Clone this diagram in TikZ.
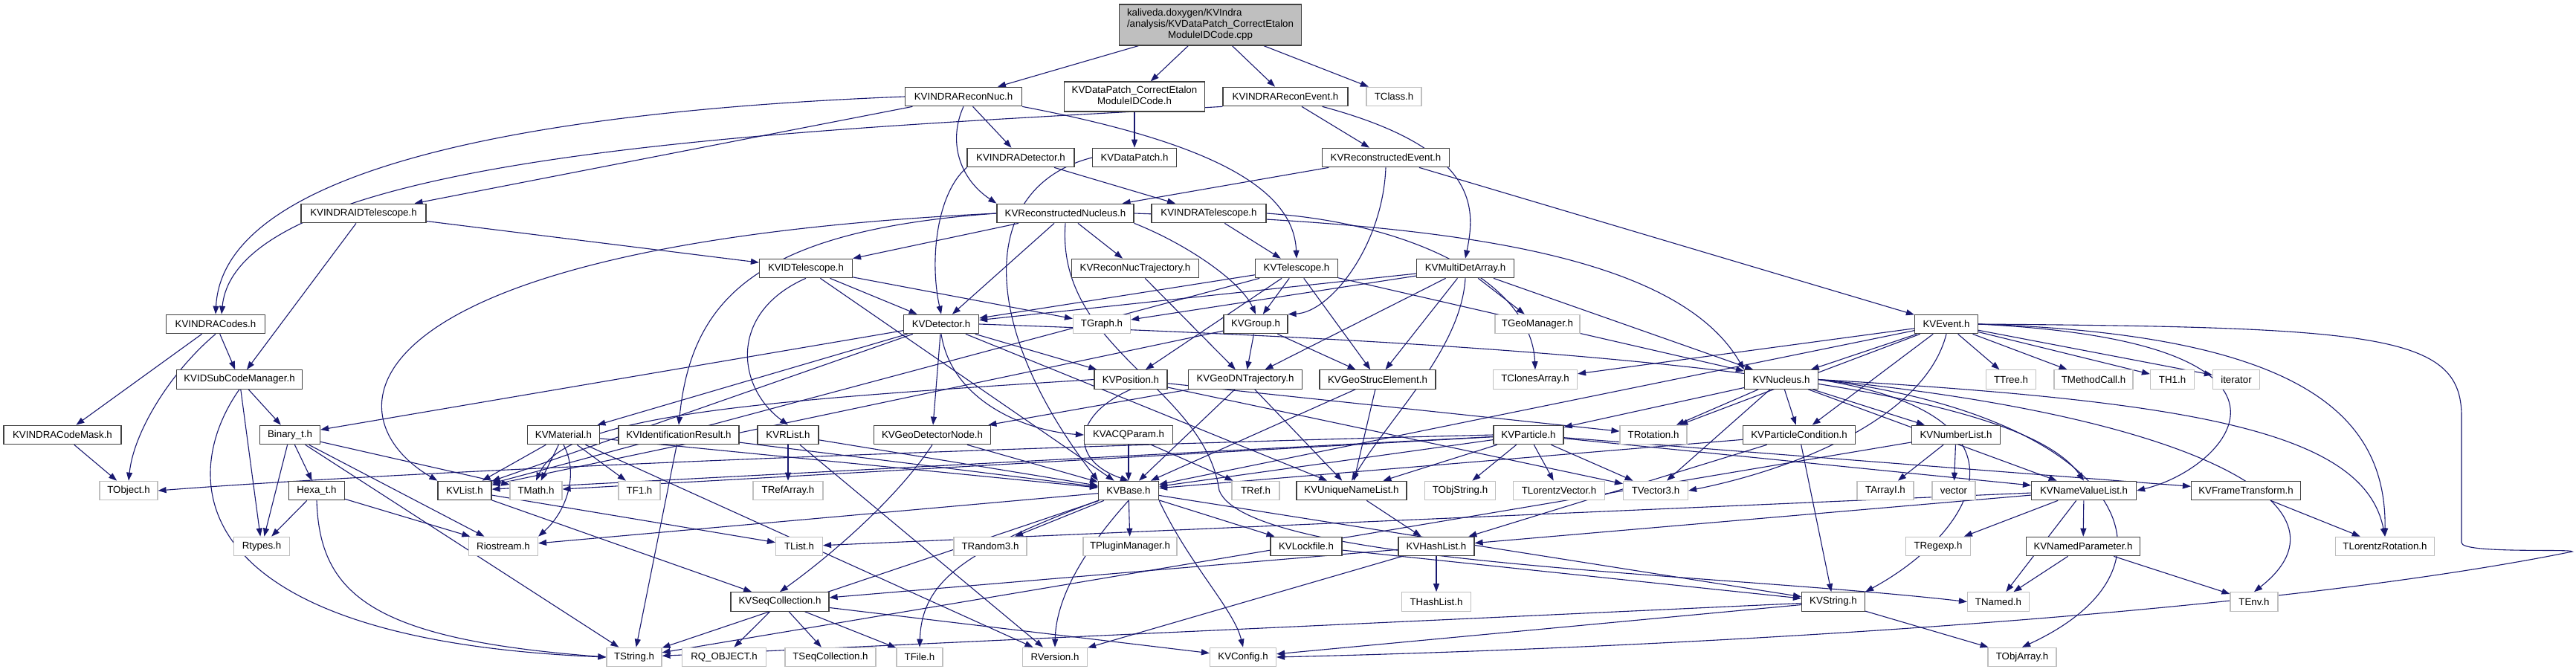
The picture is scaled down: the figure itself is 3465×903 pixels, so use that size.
\documentclass[tikz,border=0pt]{standalone}
\usepackage{fontspec}
\setmainfont{Liberation Sans}
\usetikzlibrary{arrows.meta}
\pgfdeclarelayer{background}
\pgfsetlayers{background,main}
\definecolor{edgecol}{HTML}{191970}
\definecolor{docborder}{HTML}{404040}
\definecolor{grayborder}{HTML}{BFBFBF}
\definecolor{rootfill}{HTML}{BFBFBF}
\newcommand{\nodefont}{\fontsize{13.3}{14.7}\selectfont}
\begin{document}
\begin{tikzpicture}[x=1pt,y=-1pt,
  nd/.style={draw=docborder, fill=white, line width=1.2pt, minimum height=25.5pt, inner sep=0pt, font=\nodefont, text=black},
  gr/.style={nd, draw=grayborder},
  e/.style={draw=edgecol, line width=1.1pt, -{Triangle[length=11pt,width=8pt]}}]
\useasboundingbox (0,0) rectangle (3465,903);
% ---- nodes
\node[nd, fill=rootfill, minimum width=245pt, minimum height=55pt] (root) at (1628,33.5) {\begin{tabular}{@{}l@{}}kaliveda.doxygen/KVIndra\\/analysis/KVDataPatch\_CorrectEtalon\\\multicolumn{1}{@{}c@{}}{ModuleIDCode.cpp}\end{tabular}};
\node[nd, minimum width=157pt] (reconnuc) at (1296,130) {KVINDRAReconNuc.h};
\node[nd, minimum width=189pt, minimum height=40pt] (dpcorr) at (1526,130) {\begin{tabular}{@{}c@{}}KVDataPatch\_CorrectEtalon\\ModuleIDCode.h\end{tabular}};
\node[nd, minimum width=168pt] (reconevent) at (1729,130) {KVINDRAReconEvent.h};
\node[gr, minimum width=74pt] (tclass) at (1875,130) {TClass.h};
\node[nd, minimum width=144pt] (indradet) at (1373,212) {KVINDRADetector.h};
\node[nd, minimum width=113pt] (datapatch) at (1526,212) {KVDataPatch.h};
\node[nd, minimum width=171pt] (recevent) at (1864,212) {KVReconstructedEvent.h};
\node[nd, minimum width=168pt] (indraidtel) at (489,287) {KVINDRAIDTelescope.h};
\node[nd, minimum width=184pt] (recnuc) at (1433,287) {KVReconstructedNucleus.h};
\node[nd, minimum width=154pt] (indratel) at (1626,287) {KVINDRATelescope.h};
\node[nd, minimum width=125pt] (idtel) at (1084,361) {KVIDTelescope.h};
\node[nd, minimum width=171pt] (recnuctraj) at (1527,361) {KVReconNucTrajectory.h};
\node[nd, minimum width=111pt] (telescope) at (1744,361) {KVTelescope.h};
\node[nd, minimum width=131pt] (mda) at (1971,361) {KVMultiDetArray.h};
\node[nd, minimum width=133pt] (codes) at (290,436) {KVINDRACodes.h};
\node[nd, minimum width=101pt] (detector) at (1266,436) {KVDetector.h};
\node[gr, minimum width=77pt] (tgraph) at (1482,436) {TGraph.h};
\node[nd, minimum width=86pt] (group) at (1689,436) {KVGroup.h};
\node[gr, minimum width=114pt] (tgeomanager) at (2068,436) {TGeoManager.h};
\node[nd, minimum width=85pt] (event) at (2618,436) {KVEvent.h};
\node[nd, minimum width=169pt] (subcode) at (322,510.5) {KVIDSubCodeManager.h};
\node[nd, minimum width=98pt] (position) at (1521,510.5) {KVPosition.h};
\node[nd, minimum width=153pt] (geodn) at (1675,510.5) {KVGeoDNTrajectory.h};
\node[nd, minimum width=156pt] (geostruc) at (1853,510.5) {KVGeoStrucElement.h};
\node[gr, minimum width=113pt] (tclones) at (2065,510.5) {TClonesArray.h};
\node[nd, minimum width=99pt] (nucleus) at (2396,510.5) {KVNucleus.h};
\node[gr, minimum width=67pt] (ttree) at (2705,510.5) {TTree.h};
\node[gr, minimum width=106pt] (tmethod) at (2816,510.5) {TMethodCall.h};
\node[gr, minimum width=59pt] (th1) at (2922,510.5) {TH1.h};
\node[gr, minimum width=63pt] (iterator) at (3008,510.5) {iterator};
\node[nd, minimum width=158pt] (codemask) at (84,585) {KVINDRACodeMask.h};
\node[nd, minimum width=81pt] (binary) at (390,585) {Binary\_t.h};
\node[nd, minimum width=97pt] (material) at (758,585) {KVMaterial.h};
\node[nd, minimum width=162pt] (idresult) at (913,585) {KVIdentificationResult.h};
\node[nd, minimum width=82pt] (rlist) at (1060,585) {KVRList.h};
\node[nd, minimum width=157pt] (geodetnode) at (1254,585) {KVGeoDetectorNode.h};
\node[nd, minimum width=119pt] (acq) at (1518,585) {KVACQParam.h};
\node[nd, minimum width=94pt] (particle) at (2056,585) {KVParticle.h};
\node[gr, minimum width=90pt] (trotation) at (2224,585) {TRotation.h};
\node[nd, minimum width=151pt] (partcond) at (2420,585) {KVParticleCondition.h};
\node[nd, minimum width=119pt] (numberlist) at (2631,585) {KVNumberList.h};
\node[gr, minimum width=78pt] (tobject) at (173,660) {TObject.h};
\node[nd, minimum width=75pt] (hexa) at (426,660) {Hexa\_t.h};
\node[nd, minimum width=72pt] (kvlist) at (625,660) {KVList.h};
\node[gr, minimum width=70pt] (tmath) at (721,660) {TMath.h};
\node[gr, minimum width=56pt] (tf1) at (860,660) {TF1.h};
\node[gr, minimum width=94pt] (trefarray) at (1060,660) {TRefArray.h};
\node[nd, minimum width=81pt] (kvbase) at (1518,660) {KVBase.h};
\node[gr, minimum width=64pt] (tref) at (1689,660) {TRef.h};
\node[nd, minimum width=148pt] (uniquenl) at (1818,660) {KVUniqueNameList.h};
\node[gr, minimum width=95pt] (tobjstring) at (1964,660) {TObjString.h};
\node[gr, minimum width=123pt] (tlorentzvec) at (2097,660) {TLorentzVector.h};
\node[gr, minimum width=87pt] (tvector3) at (2227,660) {TVector3.h};
\node[gr, minimum width=76pt] (tarrayi) at (2536,660) {TArrayI.h};
\node[gr, minimum width=58pt] (vector) at (2628,660) {vector};
\node[nd, minimum width=141pt] (namevaluelist) at (2803,660) {KVNameValueList.h};
\node[nd, minimum width=147pt] (frametrans) at (3021,660) {KVFrameTransform.h};
\node[gr, minimum width=75pt] (rtypes) at (352,735) {Rtypes.h};
\node[gr, minimum width=93pt] (riostream) at (677,735) {Riostream.h};
\node[gr, minimum width=63pt] (tlist) at (1075,735) {TList.h};
\node[gr, minimum width=98pt] (trandom3) at (1332,735) {TRandom3.h};
\node[gr, minimum width=126pt] (tpluginmanager) at (1520,735) {TPluginManager.h};
\node[nd, minimum width=96pt] (lockfile) at (1757,735) {KVLockfile.h};
\node[nd, minimum width=102pt] (hashlist) at (1932,735) {KVHashList.h};
\node[gr, minimum width=87pt] (tregexp) at (2607,735) {TRegexp.h};
\node[nd, minimum width=153pt] (namedparam) at (2802,735) {KVNamedParameter.h};
\node[gr, minimum width=133pt] (tlorentzrot) at (3208,735) {TLorentzRotation.h};
\node[nd, minimum width=132pt] (seqcoll) at (1049,809.5) {KVSeqCollection.h};
\node[gr, minimum width=93pt] (thashlist) at (1932,809.5) {THashList.h};
\node[nd, minimum width=85pt] (kvstring) at (2466,809.5) {KVString.h};
\node[gr, minimum width=83pt] (tnamed) at (2688,809.5) {TNamed.h};
\node[gr, minimum width=64pt] (tenv) at (3032,809.5) {TEnv.h};
\node[gr, minimum width=74pt] (tstring) at (853,884) {TString.h};
\node[gr, minimum width=113pt] (rqobject) at (974,884) {RQ\_OBJECT.h};
\node[gr, minimum width=122pt] (tseqcoll) at (1117,884) {TSeqCollection.h};
\node[gr, minimum width=62pt] (tfile) at (1237,884) {TFile.h};
\node[gr, minimum width=87pt] (rversion) at (1419,884) {RVersion.h};
\node[gr, minimum width=89pt] (kvconfig) at (1672,884) {KVConfig.h};
\node[gr, minimum width=92pt] (tobjarray) at (2720,884) {TObjArray.h};
\coordinate (loopa) at (3311,560);
\coordinate (loopb) at (3311,730);
\coordinate (loopc) at (3460,742);
\coordinate (via) at (1640,660);
% ---- edges
\begin{pgfonlayer}{background}
\fill[white] (0,0) rectangle (3465,903);
\draw[e] (root) -- (reconnuc);
\draw[e] (root) -- (dpcorr);
\draw[e] (root) -- (reconevent);
\draw[e] (root) -- (tclass);
\draw[e] (dpcorr) -- (datapatch);
\draw[e] (datapatch.west) .. controls (1320,250) and (1310,430) .. (kvbase.north west);
\draw[e] (reconnuc.west) .. controls (700,150) and (300,230) .. (codes.north);
\draw[e] (reconnuc) -- (indraidtel);
\draw[e] (reconnuc) -- (indradet);
\draw[e] (reconnuc.south) .. controls (1275,190) and (1290,240) .. (recnuc.north west);
\draw[e] (reconnuc.south east) .. controls (1620,190) and (1740,250) .. (telescope.north);
\draw[e] (reconevent.south west) .. controls (1100,175) and (320,200) .. ([xshift=8pt]codes.north);
\draw[e] (reconevent) -- (recevent);
\draw[e] ([xshift=-35pt]reconevent.south east) .. controls (1990,200) and (1985,280) .. (mda.north);
\draw[e] (indradet.south west) .. controls (1260,260) and (1250,350) .. (detector.north);
\draw[e] (indradet) -- (indratel);
\draw[e] (recevent) -- (recnuc);
\draw[e] (recevent.south) .. controls (1860,330) and (1790,420) .. (group.north east);
\draw[e] (recevent) -- (event);
\draw[e] (indraidtel) -- (idtel);
\draw[e] (indraidtel) -- (subcode);
\draw[e] (recnuc.west) .. controls (1020,310) and (930,400) .. (idresult.north);
\draw[e] (recnuc) -- (idtel);
\draw[e] (recnuc) -- (recnuctraj);
\draw[e] (recnuc) -- (detector);
\draw[e] (recnuc.south east) .. controls (1600,330) and (1670,380) .. (group.north);
\draw[e] (recnuc.east) .. controls (1900,300) and (2250,330) .. (nucleus.north west);
\draw[e] (recnuc.west) .. controls (450,330) and (440,560) .. (kvlist.north west);
\draw[e] (recnuc.south) .. controls (1420,470) and (1620,520) .. (via) .. controls (1680,760) and (2300,770) .. (tnamed.west);
\draw[e] (indratel) -- (telescope);
\draw[e] (indratel.east) .. controls (1900,300) and (2060,380) .. (tclones.north);
\draw[e] (idtel.south) .. controls (980,420) and (990,520) .. (rlist.north);
\draw[e] (idtel) -- (kvbase);
\draw[e] (idtel) -- (detector);
\draw[e] (idtel) -- (tgraph);
\draw[e] (telescope) -- (detector);
\draw[e] (telescope) -- (kvlist);
\draw[e] (telescope) -- (position);
\draw[e] (telescope) -- (group);
\draw[e] (telescope) -- (geostruc);
\draw[e] (telescope) -- (nucleus);
\draw[e] (mda) -- (detector);
\draw[e] (mda) -- (tgraph);
\draw[e] (mda) -- (geodn);
\draw[e] (mda) -- (geostruc);
\draw[e] (mda.south) .. controls (1965,470) and (1870,560) .. (uniquenl.north);
\draw[e] (mda) -- (tgeomanager);
\draw[e] (mda) -- (nucleus);
\draw[e] (codes) -- (codemask);
\draw[e] (codes.south) .. controls (230,500) and (180,580) .. (tobject.north);
\draw[e] (codes) -- (subcode);
\draw[e] (subcode) -- (binary);
\draw[e] (subcode) -- (rtypes);
\draw[e] (subcode.south) .. controls (240,640) and (240,860) .. (tstring.west);
\draw[e] (codemask) -- (tobject);
\draw[e] (binary) -- (hexa);
\draw[e] (binary) -- (rtypes);
\draw[e] (binary) -- (tstring);
\draw[e] (binary) -- (riostream);
\draw[e] (binary) -- (tmath);
\draw[e] (hexa) -- (rtypes);
\draw[e] (hexa) -- (riostream);
\draw[e] (hexa.south) .. controls (430,800) and (500,860) .. (tstring.west);
\draw[e] (detector) -- (kvlist);
\draw[e] (detector) -- (binary);
\draw[e] (detector) -- (material);
\draw[e] (detector) -- (geodetnode);
\draw[e] (detector.south) .. controls (1280,540) and (1380,580) .. (acq.west);
\draw[e] (detector) -- (position);
\draw[e] (detector) -- (uniquenl);
\draw[e] (detector.east) .. controls (2000,460) and (2700,500) .. (namevaluelist.north);
\draw[e] (group) -- (geodn);
\draw[e] (group) -- (geostruc);
\draw[e] (group) -- (kvlist);
\draw[e] (event) -- (tclones);
\draw[e] (event) -- (nucleus);
\draw[e] (event) -- (partcond);
\draw[e] (event.south) .. controls (2590,560) and (2420,630) .. (tvector3.east);
\draw[e] (event) -- (ttree);
\draw[e] (event) -- (tmethod);
\draw[e] (event) -- (th1);
\draw[e] (event) -- (iterator);
\draw[e] (event.east) .. controls (3100,450) and (3210,560) .. (tlorentzrot.north);
\draw[e] (event.east) .. controls (3150,460) and (3000,630) .. (namevaluelist.east);
\draw[e] (event.east) .. controls (3200,440) and (3311,450) .. (loopa) -- (loopb) .. controls (3311,745) and (3460,738) .. (loopc) .. controls (3050,825) and (2300,870) .. (kvconfig.east);
\draw[e] (event) -- (kvbase);
\draw[e] (event) -- (trotation);
\draw[e] (position) -- (trotation);
\draw[e] (position) -- (tvector3);
\draw[e] (position.south) .. controls (1440,560) and (1440,620) .. (kvbase.north);
\draw[e] (position.west) .. controls (1000,540) and (760,560) .. (tmath.north);
\draw[e] (geodn) -- (kvbase);
\draw[e] (geodn) -- (geodetnode);
\draw[e] (geodn) -- (uniquenl);
\draw[e] (geostruc) -- (kvbase);
\draw[e] (geostruc) -- (uniquenl);
\draw[e] (geodetnode) -- (kvbase);
\draw[e] (geodetnode.south) .. controls (1200,680) and (1100,760) .. (seqcoll.north);
\draw[e] (acq) -- (kvbase);
\draw[e] (acq) -- (tref);
\draw[e] (material) -- (kvlist);
\draw[e] (material.south) .. controls (780,640) and (760,690) .. (riostream.north east);
\draw[e] (material) -- (tf1);
\draw[e] (material) -- (rversion);
\draw[e] (material) -- (kvbase);
\draw[e] (material) -- (tmath);
\draw[e] (idresult) -- (tstring);
\draw[e] (idresult) -- (kvbase);
\draw[e] (rlist) -- (trefarray);
\draw[e] (rlist) -- (kvbase);
\draw[e] (rlist) -- (rversion);
\draw[e] (kvlist) -- (tlist);
\draw[e] (kvlist) -- (seqcoll);
\draw[e] (seqcoll) -- (rqobject);
\draw[e] (seqcoll) -- (tseqcoll);
\draw[e] (seqcoll) -- (tfile);
\draw[e] (seqcoll) -- (kvconfig);
\draw[e] (kvbase) -- (tstring);
\draw[e] (kvbase) -- (riostream);
\draw[e] (kvbase) -- (trandom3);
\draw[e] (kvbase.south west) .. controls (1300,740) and (1240,780) .. (tfile.north);
\draw[e] (kvbase.south) .. controls (1440,760) and (1420,820) .. (rversion.north);
\draw[e] (kvbase) -- (tpluginmanager);
\draw[e] (kvbase.south east) .. controls (1600,760) and (1660,820) .. (kvconfig.north);
\draw[e] (kvbase) -- (lockfile);
\draw[e] (kvbase) -- (kvstring);
\draw[e] (lockfile) -- (kvstring);
\draw[e] (particle) -- (uniquenl);
\draw[e] (particle) -- (tobjstring);
\draw[e] (particle) -- (tlorentzvec);
\draw[e] (particle) -- (tvector3);
\draw[e] (particle) -- (frametrans);
\draw[e] (particle) -- (namevaluelist);
\draw[e] (particle) -- (kvbase);
\draw[e] (particle.west) .. controls (1400,600) and (600,630) .. (tobject.east);
\draw[e] (particle) -- (kvlist);
\draw[e] (particle) -- (tmath);
\draw[e] (nucleus) -- (particle);
\draw[e] (nucleus) -- (partcond);
\draw[e] (nucleus) -- (numberlist);
\draw[e] (nucleus) -- (tvector3);
\draw[e] (nucleus.east) .. controls (2760,560) and (2650,720) .. (kvstring.north east);
\draw[e] (nucleus.east) .. controls (2950,540) and (3180,580) .. (tlorentzrot.north);
\draw[e] (nucleus.east) .. controls (2950,560) and (3180,680) .. (tenv.north);
\draw[e] (nucleus.east) .. controls (2850,560) and (2960,760) .. (tobjarray.north);
\draw[e] (nucleus) -- (namevaluelist);
\draw[e] (nucleus) -- (trotation);
\draw[e] (partcond) -- (kvstring);
\draw[e] (partcond) -- (hashlist);
\draw[e] (partcond) -- (kvbase);
\draw[e] (numberlist) -- (tarrayi);
\draw[e] (numberlist) -- (vector);
\draw[e] (numberlist) -- (tstring);
\draw[e] (namevaluelist) -- (tregexp);
\draw[e] (namevaluelist) -- (tnamed);
\draw[e] (namevaluelist) -- (namedparam);
\draw[e] (namevaluelist) -- (hashlist);
\draw[e] (namevaluelist) -- (tlist);
\draw[e] (namedparam) -- (tnamed);
\draw[e] (namedparam) -- (tenv);
\draw[e] (kvstring) -- (tstring);
\draw[e] (kvstring) -- (tobjarray);
\draw[e] (kvstring) -- (kvconfig);
\draw[e] (hashlist) -- (thashlist);
\draw[e] (hashlist) -- (seqcoll);
\draw[e] (hashlist) -- (rversion);
\draw[e] (uniquenl) -- (hashlist);
\draw[e] (frametrans) -- (tlorentzrot);
\draw[e] (recnuctraj) -- (geodn);
\end{pgfonlayer}
\end{tikzpicture}
\end{document}
